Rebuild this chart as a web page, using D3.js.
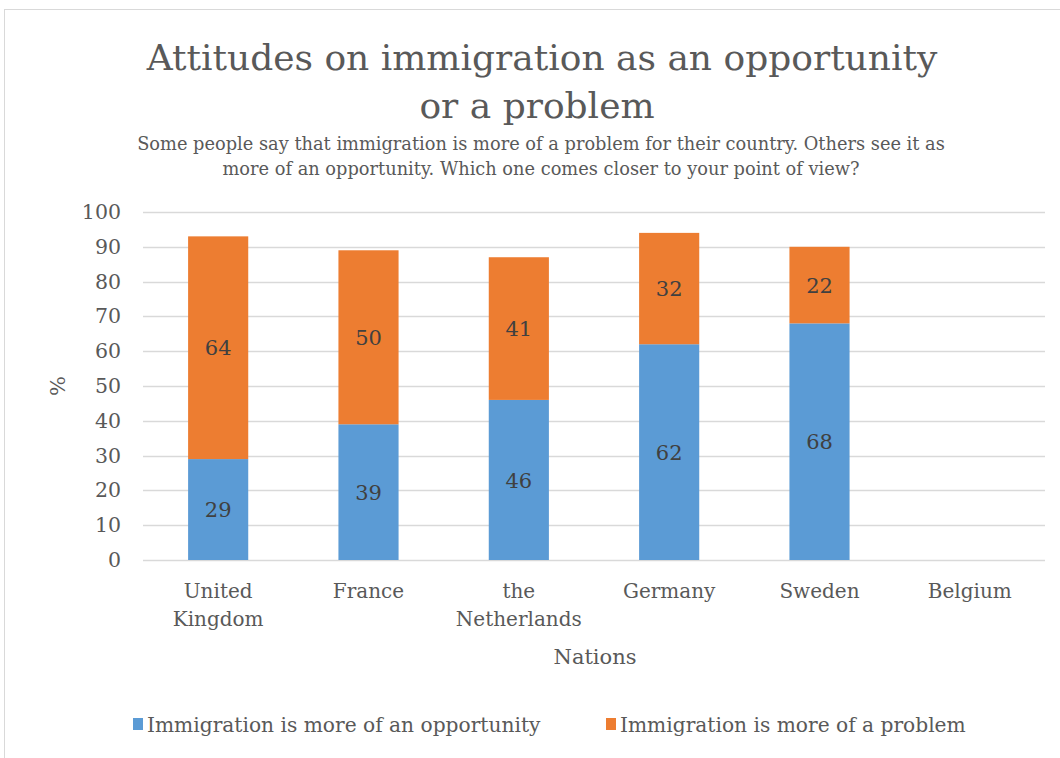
<!doctype html>
<html lang="en">
<head>
<meta charset="utf-8">
<script src="https://cdn.jsdelivr.net/npm/d3@7"></script>
<style>
  body { margin: 0; background: #fff; }
  svg text { font-family: "DejaVu Serif", serif; fill: #595959; }
</style>
</head>
<body>
<script>
    // chart data
    var nations = ["United Kingdom", "France", "the Netherlands", "Germany", "Sweden", "Belgium"];
    var nationLines = [["United", "Kingdom"], ["France"], ["the", "Netherlands"], ["Germany"], ["Sweden"], ["Belgium"]];
    var opportunity = [29, 39, 46, 62, 68, null];
    var problem = [64, 50, 41, 32, 22, null];
    var seriesNames = ["Immigration is more of an opportunity", "Immigration is more of a problem"];
    var yTicks = [0, 10, 20, 30, 40, 50, 60, 70, 80, 90, 100];

    var W = 1060, H = 758;
    var margin = {top: 212, right: 15, bottom: 198, left: 143},
        width = W - margin.left - margin.right,
        height = H - margin.top - margin.bottom;

    var svg = d3.select("body").append("svg")
        .attr("width", W)
        .attr("height", H);

    // chart border
    svg.append("rect")
        .attr("x", 4.5).attr("y", 9.5)
        .attr("width", W + 10).attr("height", H + 10)
        .attr("fill", "none")
        .attr("stroke", "#d9d9d9");

    // titles
    svg.append("text").attr("x", 542).attr("y", 70).attr("text-anchor", "middle")
        .style("font-size", "36px").text("Attitudes on immigration as an opportunity");
    svg.append("text").attr("x", 537).attr("y", 118).attr("text-anchor", "middle")
        .style("font-size", "36px").text("or a problem");
    svg.append("text").attr("x", 541).attr("y", 150).attr("text-anchor", "middle")
        .style("font-size", "17.8px").text("Some people say that immigration is more of a problem for their country. Others see it as");
    svg.append("text").attr("x", 541).attr("y", 175).attr("text-anchor", "middle")
        .style("font-size", "17.8px").text("more of an opportunity. Which one comes closer to your point of view?");

    var g = svg.append("g").attr("transform", "translate(" + margin.left + "," + margin.top + ")");

    var x = d3.scaleBand().domain(nations).range([0, width]).paddingInner(0.6).paddingOuter(0.3);
    var y = d3.scaleLinear().domain([0, 100]).range([height, 0]);

    // gridlines
    g.append("g").selectAll("line").data(yTicks).join("line")
        .attr("x1", 0).attr("x2", width)
        .attr("y1", function(d) { return Math.round(y(d)) + 0.5; })
        .attr("y2", function(d) { return Math.round(y(d)) + 0.5; })
        .attr("stroke", "#d9d9d9").attr("stroke-width", 1.5);

    // y axis labels
    var yAxis = d3.axisLeft(y).tickValues(yTicks).tickSize(0).tickPadding(22);
    var ya = g.append("g").call(yAxis);
    ya.select(".domain").remove();
    ya.selectAll("text").style("font-size", "20.5px").attr("fill", "#595959")
        .style("font-family", "'DejaVu Serif', serif");

    svg.append("text")
        .attr("transform", "translate(65,386) rotate(-90)")
        .attr("text-anchor", "middle")
        .style("font-size", "21px").text("%");

    // stacked bars
    var rows = nations.map(function(n, i) {
        return {nation: n, opportunity: opportunity[i] || 0, problem: problem[i] || 0};
    });
    var stack = d3.stack().keys(["opportunity", "problem"]);
    var layers = stack(rows);
    var colors = ["#5b9bd5", "#ed7d31"];

    layers.forEach(function(layer, li) {
        var lg = g.append("g");
        lg.selectAll("rect").data(layer.filter(function(d) { return d[1] > d[0]; })).join("rect")
            .attr("x", function(d) { return x(d.data.nation); })
            .attr("y", function(d) { return y(d[1]); })
            .attr("width", x.bandwidth())
            .attr("height", function(d) { return y(d[0]) - y(d[1]); })
            .attr("fill", colors[li]);
        lg.selectAll("text").data(layer.filter(function(d) { return d[1] > d[0]; })).join("text")
            .attr("x", function(d) { return x(d.data.nation) + x.bandwidth() / 2; })
            .attr("y", function(d) { return y((d[0] + d[1]) / 2); })
            .attr("dy", "0.36em")
            .attr("text-anchor", "middle")
            .style("font-size", "21px")
            .style("fill", "#404040")
            .text(function(d) { return d[1] - d[0]; });
    });

    // x labels
    var xl = g.append("g").selectAll("text").data(nations).join("text")
        .attr("x", function(d) { return x(d) + x.bandwidth() / 2; })
        .attr("y", 38)
        .attr("transform", "translate(0," + height + ")")
        .attr("text-anchor", "middle")
        .style("font-size", "20px");
    xl.selectAll("tspan").data(function(d, i) { return nationLines[i]; }).join("tspan")
        .attr("x", function() { var n = d3.select(this.parentNode).datum(); return x(n) + x.bandwidth() / 2; })
        .attr("dy", function(d, i) { return i === 0 ? 0 : 28; })
        .text(function(d) { return d; });

    svg.append("text").attr("x", 595).attr("y", 664).attr("text-anchor", "middle")
        .style("font-size", "21px").text("Nations");

    // legend
    var legX = [133, 606];
    var leg = svg.append("g").selectAll("g").data(seriesNames).join("g")
        .attr("transform", function(d, i) { return "translate(" + legX[i] + ",718)"; });
    leg.append("rect").attr("width", 10).attr("height", 12)
        .attr("fill", function(d, i) { return colors[i]; });
    leg.append("text").attr("x", 14).attr("y", 14)
        .style("font-size", "20.2px").text(function(d) { return d; });
</script>
</body>
</html>
